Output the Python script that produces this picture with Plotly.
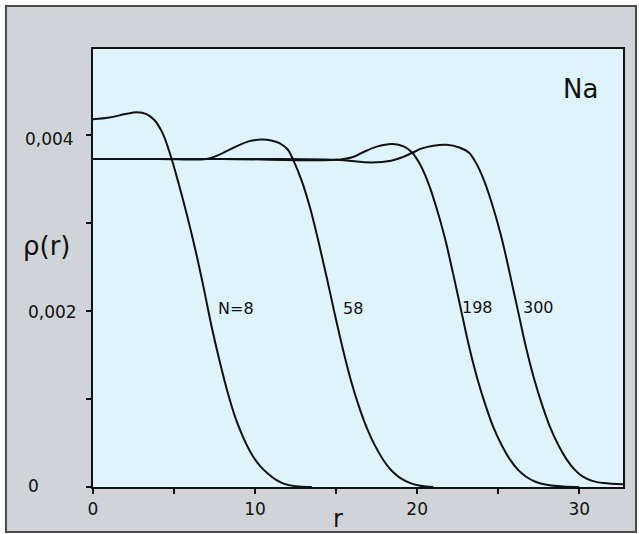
import plotly.graph_objects as go

# ---- data (rho in units of 1e-3) ----
r_n8 = [0, 1.0, 2.0, 2.7, 3.3, 3.8, 4.3, 4.8, 5.3, 5.8, 6.3, 6.8, 7.3, 7.8, 8.3, 8.8, 9.3, 9.8,
        10.3, 10.8, 11.3, 11.8, 12.5, 13.5]
rho_n8 = [4.18, 4.20, 4.24, 4.26, 4.24, 4.17, 4.02, 3.76, 3.44, 3.09, 2.71, 2.29, 1.84, 1.44, 1.08, 0.78,
          0.55, 0.37, 0.24, 0.15, 0.08, 0.035, 0.01, 0.0]

r_n58 = [0, 4, 7.0, 7.7, 8.7, 9.6, 10.4, 11.0, 11.5, 12.0, 12.4, 12.9, 13.4, 13.9, 14.4, 14.9, 15.4,
         15.9, 16.4, 16.9, 17.4, 17.9, 18.4, 18.9, 19.5, 20.2, 21.0]
rho_n58 = [3.73, 3.73, 3.73, 3.77, 3.86, 3.93, 3.95, 3.94, 3.91, 3.84, 3.70, 3.47, 3.17, 2.80, 2.40, 1.98,
           1.58, 1.22, 0.92, 0.67, 0.47, 0.31, 0.19, 0.11, 0.05, 0.015, 0.0]

r_n198 = [0, 8, 15.0, 16.0, 16.6, 17.5, 18.5, 19.2, 19.7, 20.2, 20.7, 21.2, 21.7, 22.2, 22.7, 23.2,
          23.7, 24.2, 24.7, 25.2, 25.7, 26.2, 26.7, 27.3, 28.0, 29.0, 30.0]
rho_n198 = [3.73, 3.73, 3.72, 3.75, 3.80, 3.87, 3.90, 3.87, 3.80, 3.66, 3.45, 3.17, 2.84, 2.44, 2.02, 1.60,
            1.24, 0.94, 0.68, 0.48, 0.32, 0.20, 0.12, 0.06, 0.025, 0.005, 0.0]

r_n300 = [0, 10, 15.0, 17.2, 18.4, 19.1, 19.7, 20.3, 21.0, 21.8, 22.6, 23.2, 23.7, 24.2, 24.7, 25.2,
          25.7, 26.2, 26.7, 27.2, 27.7, 28.2, 28.7, 29.2, 29.7, 30.2, 30.8, 31.5, 32.7]
rho_n300 = [3.73, 3.73, 3.72, 3.69, 3.71, 3.75, 3.80, 3.85, 3.88, 3.89, 3.86, 3.80, 3.66, 3.45, 3.17, 2.84,
            2.44, 2.02, 1.60, 1.24, 0.94, 0.68, 0.48, 0.32, 0.20, 0.12, 0.07, 0.045, 0.03]

curve_labels = ["N=8", "58", "198", "300"]
label_r = [8.8, 16.05, 23.7, 27.5]
label_rho = [2.035, 2.035, 2.04, 2.04]

x_ticks = [0, 5, 10, 15, 20, 25, 30]
x_tick_text = ["0", "", "10", "", "20", "", "30"]
y_ticks = [0, 0.001, 0.002, 0.003, 0.004]
y_label_vals = [0.004, 0.002, 0.0]
y_label_text = ["0,004", "0,002", "0"]

FONT = "DejaVu Sans"
INK = "#111111"

fig = go.Figure()
for rr, pp in [(r_n8, rho_n8), (r_n58, rho_n58), (r_n198, rho_n198), (r_n300, rho_n300)]:
    fig.add_trace(go.Scatter(
        x=rr, y=[v * 1e-3 for v in pp], mode="lines",
        line=dict(color=INK, width=2, shape="spline", smoothing=1.0),
        showlegend=False, hoverinfo="skip"))

annotations = []
for t, xr, yr in zip(curve_labels, label_r, label_rho):
    annotations.append(dict(x=xr, y=yr * 1e-3, xref="x", yref="y", text=t, showarrow=False,
                            xanchor="center", yanchor="middle",
                            font=dict(family=FONT, size=16, color=INK)))
annotations.append(dict(x=30.06, y=0.004525, xref="x", yref="y", text="Na", showarrow=False,
                        xanchor="center", yanchor="middle",
                        font=dict(family=FONT, size=26, color=INK)))
ylab_x = [-0.083, -0.077, -0.113]
ylab_shift = [-4, -1, 1]
for v, t, px, sh in zip(y_label_vals, y_label_text, ylab_x, ylab_shift):
    annotations.append(dict(x=px, y=v, xref="paper", yref="y", text=t, showarrow=False,
                            xanchor="center", yanchor="middle", yshift=sh,
                            font=dict(family=FONT, size=17, color=INK)))
annotations.append(dict(x=-0.087, y=0.55, xref="paper", yref="paper", text="ρ(r)", showarrow=False,
                        xanchor="center", yanchor="middle",
                        font=dict(family=FONT, size=26, color=INK)))
annotations.append(dict(x=0.462, y=-0.073, xref="paper", yref="paper", text="r", showarrow=False,
                        xanchor="center", yanchor="middle",
                        font=dict(family=FONT, size=24, color=INK)))

shapes = [
    dict(type="rect", xref="paper", yref="paper", x0=-0.1642, x1=1.0245, y0=-0.1027, y1=1.098,
         fillcolor="#d0d4d8", line=dict(color="#4a4a4a", width=2), layer="below"),
    dict(type="rect", xref="paper", yref="paper", x0=0, x1=1, y0=0, y1=1,
         fillcolor="#dff3fa", line=dict(width=0), layer="below"),
]

fig.update_layout(
    width=639, height=534,
    margin=dict(l=93, r=16, t=49, b=47),
    paper_bgcolor="white", plot_bgcolor="rgba(0,0,0,0)",
    annotations=annotations, shapes=shapes,
    font=dict(family=FONT, color=INK),
)
fig.update_xaxes(range=[0, 32.7], showgrid=False, zeroline=False,
                 showline=True, linecolor=INK, linewidth=2, mirror=True,
                 ticks="outside", ticklen=5, tickwidth=1.5, tickcolor=INK,
                 tickvals=x_ticks, ticktext=x_tick_text, ticklabelstandoff=1,
                 tickfont=dict(family=FONT, size=17, color=INK))
fig.update_yaxes(range=[0, 0.00498], showgrid=False, zeroline=False,
                 showline=True, linecolor=INK, linewidth=2, mirror=True,
                 ticks="outside", ticklen=5, tickwidth=1.5, tickcolor=INK,
                 tickvals=y_ticks, showticklabels=False)

fig.write_html("out.html")
